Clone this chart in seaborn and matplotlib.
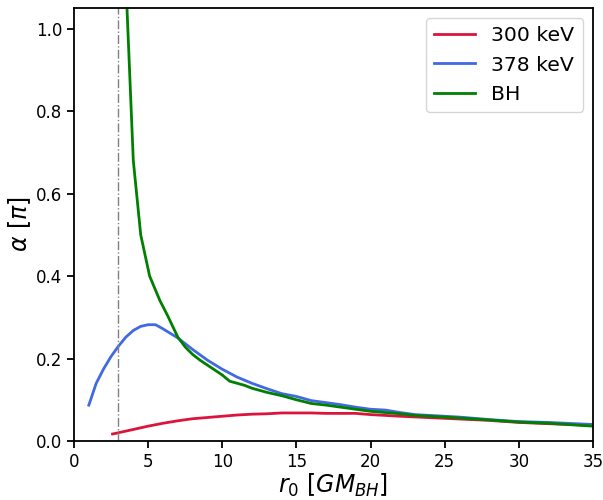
import numpy as np
import pandas as pd
import matplotlib
matplotlib.use("Agg")
import matplotlib.pyplot as plt
import seaborn as sns

# ---- data ----
labels = ["300 keV", "378 keV", "BH"]
colors = ["crimson", "royalblue", "green"]

r_300 = [2.6, 3, 4, 5, 6, 7, 8, 9, 10, 11, 12, 13, 14, 15, 16, 17, 18, 19, 20, 22, 25, 28, 30, 32, 35]
a_300 = [0.017, 0.020, 0.028, 0.036, 0.043, 0.049, 0.054, 0.057, 0.060, 0.063, 0.065, 0.066,
         0.068, 0.068, 0.068, 0.067, 0.067, 0.067, 0.064, 0.060, 0.055, 0.050, 0.045, 0.042, 0.038]

r_378 = [1.0, 1.5, 2.0, 2.5, 3.0, 3.5, 4.0, 4.5, 5.0, 5.5, 6.0, 7.0, 8.0, 9.0, 10.0, 11.0, 12.0,
         13.0, 14.0, 15.0, 16.0, 17.0, 18.0, 19.0, 20.0, 21.0, 22.0, 23.0, 25.0, 26.0, 28.0, 30.0, 32.0, 35.0]
a_378 = [0.087, 0.140, 0.175, 0.205, 0.230, 0.252, 0.268, 0.278, 0.282, 0.282, 0.272, 0.250,
         0.222, 0.196, 0.174, 0.155, 0.140, 0.127, 0.115, 0.108, 0.098, 0.093, 0.088, 0.082,
         0.077, 0.075, 0.069, 0.064, 0.060, 0.058, 0.052, 0.047, 0.045, 0.040]

r_bh = [3.4, 4.0, 4.5, 5.1, 5.8, 6.3, 7.0, 7.5, 8.0, 8.5, 9.0, 10.0, 10.5, 11.5, 12.0, 13.0, 14.0,
        15.0, 16.0, 17.0, 18.0, 19.0, 20.0, 21.0, 22.0, 23.0, 25.0, 28.0, 30.0, 32.0, 35.0]
a_bh = [1.20, 0.68, 0.50, 0.40, 0.34, 0.305, 0.252, 0.228, 0.210, 0.196, 0.184, 0.160, 0.145,
        0.135, 0.128, 0.118, 0.110, 0.100, 0.091, 0.087, 0.082, 0.077, 0.072, 0.069, 0.066,
        0.062, 0.058, 0.051, 0.046, 0.043, 0.036]

r_isco = 3.0

df = pd.concat([
    pd.DataFrame({"r0": r_300, "alpha": a_300, "series": labels[0]}),
    pd.DataFrame({"r0": r_378, "alpha": a_378, "series": labels[1]}),
    pd.DataFrame({"r0": r_bh, "alpha": a_bh, "series": labels[2]}),
], ignore_index=True)

fig = plt.figure(figsize=(6.03, 5.0), dpi=100)
ax = fig.add_axes([0.1227, 0.118, 0.8607, 0.866])

sns.lineplot(data=df, x="r0", y="alpha", hue="series", hue_order=labels,
             palette=dict(zip(labels, colors)), sort=False, estimator=None,
             linewidth=2.0, ax=ax)

ax.axvline(r_isco, color="gray", linestyle="-.", linewidth=1.0)

ax.set_xlim(0, 35)
ax.set_ylim(0, 1.05)
ax.set_xticks([0, 5, 10, 15, 20, 25, 30, 35])
ax.set_yticks([0.0, 0.2, 0.4, 0.6, 0.8, 1.0])
ax.set_yticklabels(["0.0", "0.2", "0.4", "0.6", "0.8", "1.0"])
ax.tick_params(labelsize=12, length=5, width=1.3)
for s in ax.spines.values():
    s.set_linewidth(1.3)

ax.set_xlabel(r"$r_0\ [GM_{BH}]$", fontsize=17, labelpad=1)
ax.set_ylabel(r"$\alpha\ [\pi]$", fontsize=17, labelpad=2)

leg = ax.legend(loc="upper right", fontsize=14.7, title=None)

fig.savefig("out.png", dpi=100)
